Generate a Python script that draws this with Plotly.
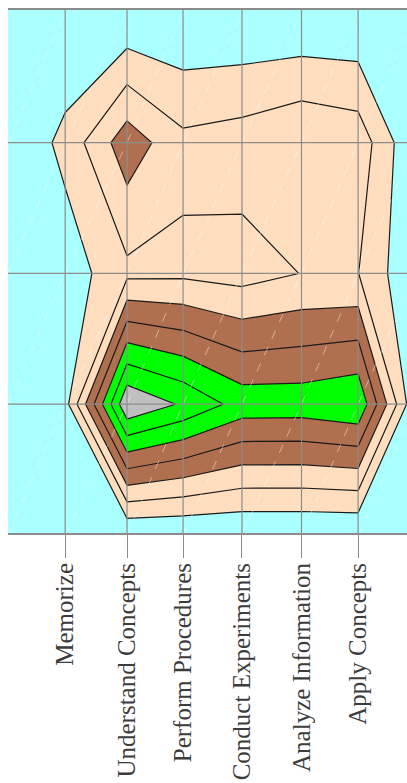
import plotly.graph_objects as go

# ---- data ----
categories = ["Memorize", "Understand Concepts", "Perform Procedures",
              "Conduct Experiments", "Analyze Information", "Apply Concepts"]
category_x = [0.98, 2.04, 3.0, 4.01, 5.03, 6.0]

grid_x = [0.0, 0.98, 2.04, 3.0, 4.01, 5.03, 6.0, 7.0]
grid_y = [0, 1, 2, 3, 4]

row_y0 = [0, 0, 0, 0, 0, 0, 0, 0]
row_y1 = [0, 0.6, 7.9, 6.86, 5.6, 5.57, 5.9, 0]
row_y2 = [0, 0.43, 1.75, 1.8, 1.6, 2.02, 2.02, 0]
row_y3 = [0, 1.3, 3.6, 2.25, 2.48, 2.94, 2.63, 0]
row_y4 = [0, 0, 0, 0, 0, 0, 0, 0]

horizontal_grid = [1, 2, 3]

z = [row_y0, row_y1, row_y2, row_y3, row_y4]

cyan, peach, brown, green, grey = "#aaffff", "#ffdebf", "#b0704f", "#00ff00", "#c0c0c0"
colorscale = [
    [0.0, cyan], [0.5 / 7, cyan],
    [0.5 / 7, peach], [2.5 / 7, peach],
    [2.5 / 7, brown], [4.5 / 7, brown],
    [4.5 / 7, green], [6.5 / 7, green],
    [6.5 / 7, grey], [1.0, grey],
]

fig = go.Figure(go.Contour(
    x=grid_x, y=grid_y, z=z,
    contours=dict(start=1, end=7, size=1, coloring="fill"),
    colorscale=colorscale, showscale=False,
    line=dict(color="#1a1a1a", width=1.2, smoothing=0),
    hoverinfo="skip",
))

shapes = []
# faint triangulation diagonals
for i in range(len(grid_x) - 1):
    for j in range(len(grid_y) - 1):
        shapes.append(dict(type="line", xref="x", yref="y",
                           x0=grid_x[i], y0=grid_y[j], x1=grid_x[i + 1], y1=grid_y[j + 1],
                           line=dict(color="rgba(255,255,255,0.45)", width=1, dash="dash"),
                           layer="above"))
# grid lines drawn over the fill
for v in category_x:
    shapes.append(dict(type="line", xref="x", yref="paper", x0=v, x1=v, y0=0, y1=1,
                       line=dict(color="#8c8c8c", width=1.2), layer="above"))
for v in horizontal_grid:
    shapes.append(dict(type="line", xref="paper", yref="y", x0=0, x1=1, y0=v, y1=v,
                       line=dict(color="#8c8c8c", width=1.2), layer="above"))

plot_w = 412
fig.update_layout(
    width=plot_w, height=780,
    margin=dict(l=0, r=0, t=0, b=255),
    paper_bgcolor="white", plot_bgcolor=cyan,
    font=dict(family="Liberation Serif", size=25, color="#3c3c3c"),
    shapes=shapes,
    showlegend=False,
    xaxis=dict(range=[0, plot_w / 58.35], tickmode="array", tickvals=category_x,
               ticktext=categories, tickangle=-90, ticks="outside", ticklen=23,
               tickcolor="#8c8c8c", tickwidth=1, ticklabelstandoff=-5,
               showgrid=False, zeroline=False, showline=True, linecolor="#8c8c8c",
               linewidth=2, mirror=True),
    yaxis=dict(range=[0.015, 4.015], showticklabels=False, ticks="", showgrid=False,
               zeroline=False, showline=True, linecolor="#8c8c8c", linewidth=2, mirror=False),
)

fig.write_html("out.html",
               post_script="document.documentElement.style.overflow='hidden';"
                           "document.body.style.overflow='hidden';"
                           "document.body.style.marginRight='0';"
                           "document.body.style.width='420px';")
